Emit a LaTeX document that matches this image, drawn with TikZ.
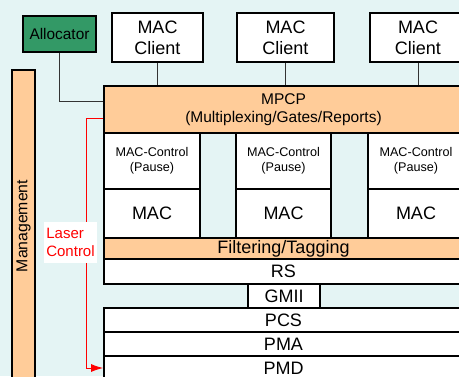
\documentclass[tikz,border=0pt]{standalone}
\usepackage{fontspec}
\setmainfont{Liberation Sans}
\usetikzlibrary{arrows.meta,calc}
\definecolor{bgc}{HTML}{E4F4F4}
\definecolor{orng}{HTML}{FFCC99}
\definecolor{grn}{HTML}{339966}
\definecolor{redc}{HTML}{FF0000}
\tikzset{
  box/.style={draw=black, line width=1.8pt, fill=white, inner sep=0pt, align=center, font=\fontsize{18}{21}\selectfont},
  obox/.style={box, fill=orng},
  ctrl/.style={box, font=\fontsize{12.6}{15}\selectfont},
  conn/.style={draw=black!80, line width=0.9pt},
}
\begin{document}
\begin{tikzpicture}[x=1pt,y=-1pt]
\useasboundingbox (0,0) rectangle (459,376);
\clip (0,0) rectangle (459,376);
\fill[bgc] (0,0) rectangle (459,376);

% management
\node[obox, minimum width=23, minimum height=312] (mgmt) at (23.5,226) {};
\node[rotate=90, inner sep=0pt, font=\fontsize{15.8}{18}\selectfont] (mgmttxt) at (mgmt.center) {Management};

% allocator and clients
\node[box, fill=grn, minimum width=73, minimum height=36, font=\fontsize{15.4}{18}\selectfont] (alloc) at (59.5,34) {Allocator};
\node[box, minimum width=91, minimum height=49] (mc1) at (157.5,37.5) {MAC\\Client};
\node[box, minimum width=97, minimum height=49] (mc2) at (285.5,37.5) {MAC\\Client};
\node[box, minimum width=96, minimum height=49] (mc3) at (418,37.5) {MAC\\Client};

% MPCP
\node[obox, minimum width=359, minimum height=47, font=\fontsize{15.5}{18}\selectfont] (mpcp) at (283.5,109.5) {MPCP\\(Multiplexing/Gates/Reports)};

% MAC control and MAC columns
\node[ctrl, minimum width=96, minimum height=56] (ctl1) at (152,161) {MAC-Control\\(Pause)};
\node[ctrl, minimum width=95, minimum height=56] (ctl2) at (283.5,161) {MAC-Control\\(Pause)};
\node[ctrl, minimum width=96, minimum height=56] (ctl3) at (416,161) {MAC-Control\\(Pause)};
\node[box, minimum width=96, minimum height=49] (mac1) at (152,213.5) {MAC};
\node[box, minimum width=95, minimum height=49] (mac2) at (283.5,213.5) {MAC};
\node[box, minimum width=96, minimum height=49] (mac3) at (416,213.5) {MAC};

% layers
\node[obox, minimum width=359, minimum height=21] (filt) at (283.5,248.5) {Filtering/Tagging};
\node[box, minimum width=359, minimum height=25] (rs) at (283.5,271.5) {RS};
\node[box, minimum width=72, minimum height=24] (gmii) at (284,296) {GMII};
\node[box, minimum width=359, minimum height=24] (pcs) at (283.5,320) {PCS};
\node[box, minimum width=359, minimum height=24] (pma) at (283.5,344) {PMA};
\node[box, minimum width=359, minimum height=24] (pmd) at (283.5,368) {PMD};

% connectors
\draw[conn] (mc1.south) -- (mc1.south |- mpcp.north);
\draw[conn] (mc2.south) -- (mc2.south |- mpcp.north);
\draw[conn] (mc3.south) -- (mc3.south |- mpcp.north);
\coordinate (aend) at ($(mpcp.north west)!0.34!(mpcp.south west)$);
\draw[conn] (alloc.south) |- (aend);

% laser control
\coordinate (lstart) at ($(mpcp.north west)!0.68!(mpcp.south west)$);
\draw[redc, line width=0.9pt, -{Latex[length=12pt,width=8pt]}] (lstart) -- ($(lstart)+(-17,0)$) |- (pmd.west);
\node[fill=white, text=redc, align=left, inner xsep=2.5pt, inner ysep=0pt, minimum height=41, font=\fontsize{15}{18}\selectfont] (laser) at (70.5,242.5) {Laser\\Control};
\end{tikzpicture}
\end{document}
